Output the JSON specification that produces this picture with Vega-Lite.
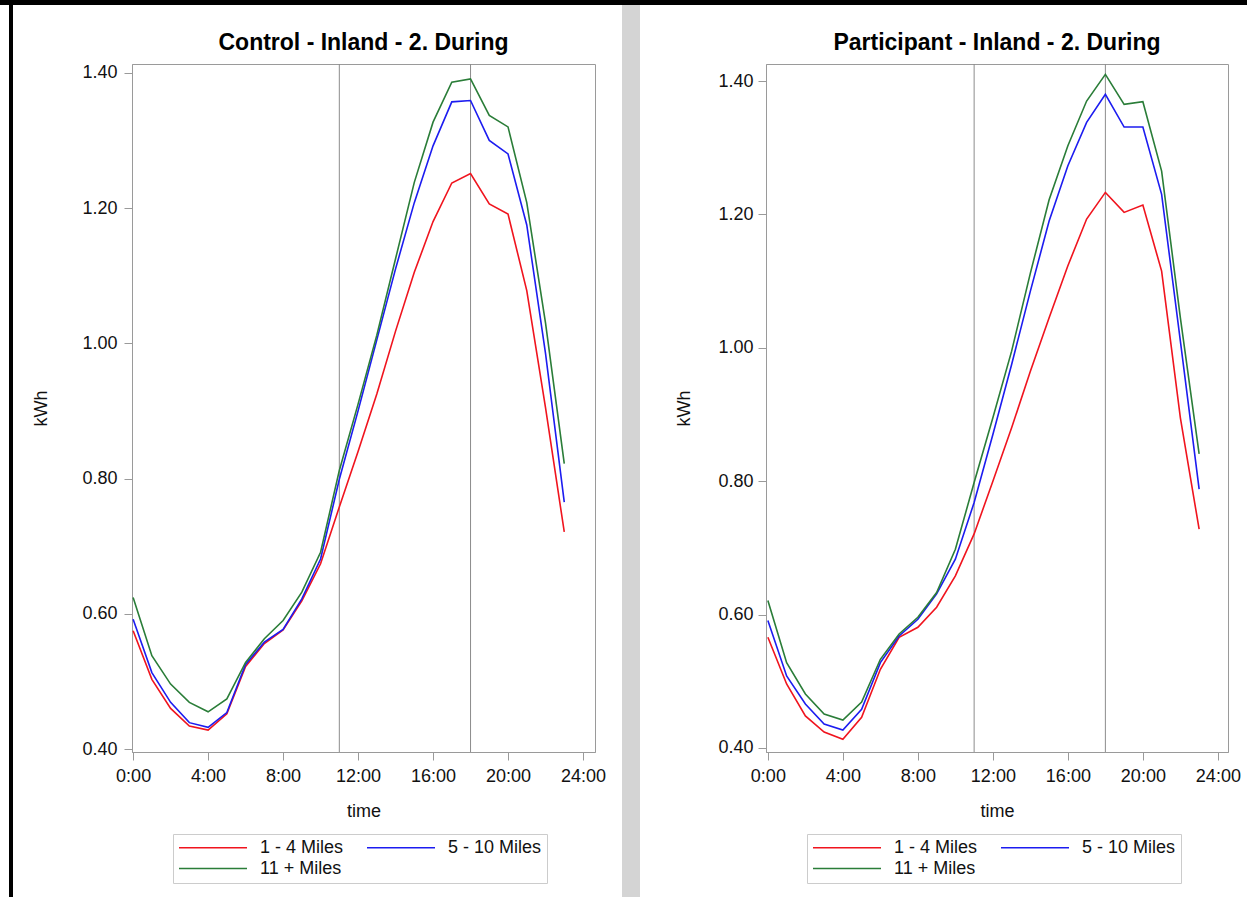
{
  "$schema": "https://vega.github.io/schema/vega-lite/v6.json",
  "padding": 0,
  "background": "white",
  "spacing": 0,
  "resolve": {"scale": {"color": "independent"}, "legend": {"color": "independent"}},
  "config": {
    "font": "Liberation Sans",
    "view": {"stroke": null},
    "axis": {"labelFont": "Liberation Sans", "labelFontSize": 18, "labelColor": "#111", "titleFont": "Liberation Sans", "titleFontSize": 18, "titleFontWeight": "normal", "titleColor": "#111", "domainColor": "#9a9a9a", "tickColor": "#9a9a9a", "tickSize": 8, "grid": false},
    "legend": {"orient": "none", "legendX": 41, "legendY": 770, "direction": "horizontal", "columns": 2, "padding": 5, "strokeColor": "#cccccc", "symbolType": "stroke", "symbolSize": 4624, "symbolStrokeWidth": 1.6, "clipHeight": 17, "labelFont": "Liberation Sans", "labelFontSize": 18, "labelColor": "#111", "labelOffset": 12, "columnPadding": 22, "rowPadding": 2, "title": null},
    "title": {"font": "Liberation Sans", "fontSize": 23, "fontWeight": "bold", "color": "#000", "anchor": "middle", "offset": 9}
  },
  "datasets": {
    "one": [{}],
    "refs": [{"hour": 11}, {"hour": 18}],
    "control": [
      {"hour":0,"distance":"1 - 4 Miles","kWh":0.575},{"hour":1,"distance":"1 - 4 Miles","kWh":0.503},{"hour":2,"distance":"1 - 4 Miles","kWh":0.460},{"hour":3,"distance":"1 - 4 Miles","kWh":0.434},{"hour":4,"distance":"1 - 4 Miles","kWh":0.428},{"hour":5,"distance":"1 - 4 Miles","kWh":0.452},{"hour":6,"distance":"1 - 4 Miles","kWh":0.522},{"hour":7,"distance":"1 - 4 Miles","kWh":0.556},{"hour":8,"distance":"1 - 4 Miles","kWh":0.576},{"hour":9,"distance":"1 - 4 Miles","kWh":0.619},{"hour":10,"distance":"1 - 4 Miles","kWh":0.674},{"hour":11,"distance":"1 - 4 Miles","kWh":0.758},{"hour":12,"distance":"1 - 4 Miles","kWh":0.840},{"hour":13,"distance":"1 - 4 Miles","kWh":0.925},{"hour":14,"distance":"1 - 4 Miles","kWh":1.018},{"hour":15,"distance":"1 - 4 Miles","kWh":1.105},{"hour":16,"distance":"1 - 4 Miles","kWh":1.180},{"hour":17,"distance":"1 - 4 Miles","kWh":1.237},{"hour":18,"distance":"1 - 4 Miles","kWh":1.251},{"hour":19,"distance":"1 - 4 Miles","kWh":1.206},{"hour":20,"distance":"1 - 4 Miles","kWh":1.191},{"hour":21,"distance":"1 - 4 Miles","kWh":1.078},{"hour":22,"distance":"1 - 4 Miles","kWh":0.905},{"hour":23,"distance":"1 - 4 Miles","kWh":0.721},
      {"hour":0,"distance":"5 - 10 Miles","kWh":0.592},{"hour":1,"distance":"5 - 10 Miles","kWh":0.513},{"hour":2,"distance":"5 - 10 Miles","kWh":0.469},{"hour":3,"distance":"5 - 10 Miles","kWh":0.439},{"hour":4,"distance":"5 - 10 Miles","kWh":0.432},{"hour":5,"distance":"5 - 10 Miles","kWh":0.454},{"hour":6,"distance":"5 - 10 Miles","kWh":0.525},{"hour":7,"distance":"5 - 10 Miles","kWh":0.558},{"hour":8,"distance":"5 - 10 Miles","kWh":0.577},{"hour":9,"distance":"5 - 10 Miles","kWh":0.622},{"hour":10,"distance":"5 - 10 Miles","kWh":0.681},{"hour":11,"distance":"5 - 10 Miles","kWh":0.799},{"hour":12,"distance":"5 - 10 Miles","kWh":0.900},{"hour":13,"distance":"5 - 10 Miles","kWh":1.005},{"hour":14,"distance":"5 - 10 Miles","kWh":1.110},{"hour":15,"distance":"5 - 10 Miles","kWh":1.208},{"hour":16,"distance":"5 - 10 Miles","kWh":1.292},{"hour":17,"distance":"5 - 10 Miles","kWh":1.357},{"hour":18,"distance":"5 - 10 Miles","kWh":1.359},{"hour":19,"distance":"5 - 10 Miles","kWh":1.300},{"hour":20,"distance":"5 - 10 Miles","kWh":1.280},{"hour":21,"distance":"5 - 10 Miles","kWh":1.175},{"hour":22,"distance":"5 - 10 Miles","kWh":0.985},{"hour":23,"distance":"5 - 10 Miles","kWh":0.765},
      {"hour":0,"distance":"11 + Miles","kWh":0.624},{"hour":1,"distance":"11 + Miles","kWh":0.538},{"hour":2,"distance":"11 + Miles","kWh":0.496},{"hour":3,"distance":"11 + Miles","kWh":0.469},{"hour":4,"distance":"11 + Miles","kWh":0.455},{"hour":5,"distance":"11 + Miles","kWh":0.474},{"hour":6,"distance":"11 + Miles","kWh":0.528},{"hour":7,"distance":"11 + Miles","kWh":0.563},{"hour":8,"distance":"11 + Miles","kWh":0.590},{"hour":9,"distance":"11 + Miles","kWh":0.632},{"hour":10,"distance":"11 + Miles","kWh":0.691},{"hour":11,"distance":"11 + Miles","kWh":0.812},{"hour":12,"distance":"11 + Miles","kWh":0.910},{"hour":13,"distance":"11 + Miles","kWh":1.012},{"hour":14,"distance":"11 + Miles","kWh":1.125},{"hour":15,"distance":"11 + Miles","kWh":1.238},{"hour":16,"distance":"11 + Miles","kWh":1.327},{"hour":17,"distance":"11 + Miles","kWh":1.386},{"hour":18,"distance":"11 + Miles","kWh":1.391},{"hour":19,"distance":"11 + Miles","kWh":1.337},{"hour":20,"distance":"11 + Miles","kWh":1.320},{"hour":21,"distance":"11 + Miles","kWh":1.208},{"hour":22,"distance":"11 + Miles","kWh":1.030},{"hour":23,"distance":"11 + Miles","kWh":0.822}
    ],
    "participant": [
      {"hour":0,"distance":"1 - 4 Miles","kWh":0.566},{"hour":1,"distance":"1 - 4 Miles","kWh":0.496},{"hour":2,"distance":"1 - 4 Miles","kWh":0.448},{"hour":3,"distance":"1 - 4 Miles","kWh":0.424},{"hour":4,"distance":"1 - 4 Miles","kWh":0.413},{"hour":5,"distance":"1 - 4 Miles","kWh":0.446},{"hour":6,"distance":"1 - 4 Miles","kWh":0.518},{"hour":7,"distance":"1 - 4 Miles","kWh":0.566},{"hour":8,"distance":"1 - 4 Miles","kWh":0.581},{"hour":9,"distance":"1 - 4 Miles","kWh":0.611},{"hour":10,"distance":"1 - 4 Miles","kWh":0.658},{"hour":11,"distance":"1 - 4 Miles","kWh":0.721},{"hour":12,"distance":"1 - 4 Miles","kWh":0.800},{"hour":13,"distance":"1 - 4 Miles","kWh":0.880},{"hour":14,"distance":"1 - 4 Miles","kWh":0.965},{"hour":15,"distance":"1 - 4 Miles","kWh":1.045},{"hour":16,"distance":"1 - 4 Miles","kWh":1.123},{"hour":17,"distance":"1 - 4 Miles","kWh":1.193},{"hour":18,"distance":"1 - 4 Miles","kWh":1.233},{"hour":19,"distance":"1 - 4 Miles","kWh":1.203},{"hour":20,"distance":"1 - 4 Miles","kWh":1.214},{"hour":21,"distance":"1 - 4 Miles","kWh":1.115},{"hour":22,"distance":"1 - 4 Miles","kWh":0.895},{"hour":23,"distance":"1 - 4 Miles","kWh":0.728},
      {"hour":0,"distance":"5 - 10 Miles","kWh":0.591},{"hour":1,"distance":"5 - 10 Miles","kWh":0.508},{"hour":2,"distance":"5 - 10 Miles","kWh":0.466},{"hour":3,"distance":"5 - 10 Miles","kWh":0.436},{"hour":4,"distance":"5 - 10 Miles","kWh":0.427},{"hour":5,"distance":"5 - 10 Miles","kWh":0.458},{"hour":6,"distance":"5 - 10 Miles","kWh":0.528},{"hour":7,"distance":"5 - 10 Miles","kWh":0.568},{"hour":8,"distance":"5 - 10 Miles","kWh":0.593},{"hour":9,"distance":"5 - 10 Miles","kWh":0.631},{"hour":10,"distance":"5 - 10 Miles","kWh":0.683},{"hour":11,"distance":"5 - 10 Miles","kWh":0.768},{"hour":12,"distance":"5 - 10 Miles","kWh":0.870},{"hour":13,"distance":"5 - 10 Miles","kWh":0.975},{"hour":14,"distance":"5 - 10 Miles","kWh":1.085},{"hour":15,"distance":"5 - 10 Miles","kWh":1.190},{"hour":16,"distance":"5 - 10 Miles","kWh":1.273},{"hour":17,"distance":"5 - 10 Miles","kWh":1.338},{"hour":18,"distance":"5 - 10 Miles","kWh":1.380},{"hour":19,"distance":"5 - 10 Miles","kWh":1.331},{"hour":20,"distance":"5 - 10 Miles","kWh":1.331},{"hour":21,"distance":"5 - 10 Miles","kWh":1.230},{"hour":22,"distance":"5 - 10 Miles","kWh":1.010},{"hour":23,"distance":"5 - 10 Miles","kWh":0.788},
      {"hour":0,"distance":"11 + Miles","kWh":0.621},{"hour":1,"distance":"11 + Miles","kWh":0.528},{"hour":2,"distance":"11 + Miles","kWh":0.481},{"hour":3,"distance":"11 + Miles","kWh":0.451},{"hour":4,"distance":"11 + Miles","kWh":0.442},{"hour":5,"distance":"11 + Miles","kWh":0.469},{"hour":6,"distance":"11 + Miles","kWh":0.533},{"hour":7,"distance":"11 + Miles","kWh":0.571},{"hour":8,"distance":"11 + Miles","kWh":0.596},{"hour":9,"distance":"11 + Miles","kWh":0.633},{"hour":10,"distance":"11 + Miles","kWh":0.698},{"hour":11,"distance":"11 + Miles","kWh":0.798},{"hour":12,"distance":"11 + Miles","kWh":0.895},{"hour":13,"distance":"11 + Miles","kWh":0.995},{"hour":14,"distance":"11 + Miles","kWh":1.112},{"hour":15,"distance":"11 + Miles","kWh":1.222},{"hour":16,"distance":"11 + Miles","kWh":1.303},{"hour":17,"distance":"11 + Miles","kWh":1.370},{"hour":18,"distance":"11 + Miles","kWh":1.410},{"hour":19,"distance":"11 + Miles","kWh":1.365},{"hour":20,"distance":"11 + Miles","kWh":1.369},{"hour":21,"distance":"11 + Miles","kWh":1.265},{"hour":22,"distance":"11 + Miles","kWh":1.045},{"hour":23,"distance":"11 + Miles","kWh":0.841}
    ]
  },
  "vconcat": [
    {"data": {"name": "one"}, "mark": {"type": "rect", "opacity": 0}, "encoding": {}, "width": 1247, "height": 5, "view": {"fill": "#000000", "stroke": null}},
    {
      "spacing": 0,
      "resolve": {"scale": {"color": "independent"}, "legend": {"color": "independent"}},
      "hconcat": [
        {"data": {"name": "one"}, "mark": {"type": "rect", "opacity": 0}, "encoding": {}, "width": 9, "height": 1, "view": {"stroke": null}},
        {"data": {"name": "one"}, "mark": {"type": "rect", "opacity": 0}, "encoding": {}, "width": 4, "height": 892, "view": {"fill": "#000000", "stroke": null}},
        {"data": {"name": "one"}, "mark": {"type": "rect", "opacity": 0}, "encoding": {}, "width": 19, "height": 1, "view": {"stroke": null}},
        {
          "spacing": 0,
          "resolve": {"scale": {"color": "independent"}, "legend": {"color": "independent"}},
          "vconcat": [
            {"data": {"name": "one"}, "mark": {"type": "rect", "opacity": 0}, "encoding": {}, "width": 463, "height": 26, "view": {"stroke": null}},
            {
              "width": 463, "height": 688,
              "view": {"stroke": "#9a9a9a", "strokeWidth": 1},
              "title": {"text": "Control - Inland - 2. During"},
              "layer": [
                {"data": {"name": "refs"}, "mark": {"type": "rule", "color": "#8c8c8c", "strokeWidth": 1}, "encoding": {"x": {"field": "hour", "type": "quantitative", "scale": {"domain": [-0.06, 24.64], "nice": false, "zero": false}, "axis": {"title": "time", "values": [0, 4, 8, 12, 16, 20, 24], "labelExpr": "datum.value + ':00'", "labelPadding": 7, "titlePadding": 17}}}},
                {"data": {"name": "control"}, "mark": {"type": "line", "strokeWidth": 1.6}, "encoding": {
                  "x": {"field": "hour", "type": "quantitative", "scale": {"domain": [-0.06, 24.64], "nice": false, "zero": false}, "axis": {"title": "time", "values": [0, 4, 8, 12, 16, 20, 24], "labelExpr": "datum.value + ':00'", "labelPadding": 7, "titlePadding": 17}},
                  "y": {"field": "kWh", "type": "quantitative", "scale": {"domain": [0.3956, 1.413], "nice": false, "zero": false}, "axis": {"title": "kWh", "values": [0.4, 0.6, 0.8, 1.0, 1.2, 1.4], "format": ".2f", "labelPadding": 7, "titlePadding": 31}},
                  "color": {"field": "distance", "type": "nominal", "scale": {"domain": ["1 - 4 Miles", "5 - 10 Miles", "11 + Miles"], "range": ["#f0141e", "#1c1cf0", "#2a7d38"]}}
                }}
              ]
            }
          ]
        },
        {"data": {"name": "one"}, "mark": {"type": "rect", "opacity": 0}, "encoding": {}, "width": 15, "height": 1, "view": {"stroke": null}},
        {"data": {"name": "one"}, "mark": {"type": "rect", "opacity": 0}, "encoding": {}, "width": 18, "height": 892, "view": {"fill": "#d4d4d4", "stroke": null}},
        {"data": {"name": "one"}, "mark": {"type": "rect", "opacity": 0}, "encoding": {}, "width": 35, "height": 1, "view": {"stroke": null}},
        {
          "spacing": 0,
          "resolve": {"scale": {"color": "independent"}, "legend": {"color": "independent"}},
          "vconcat": [
            {"data": {"name": "one"}, "mark": {"type": "rect", "opacity": 0}, "encoding": {}, "width": 462, "height": 26, "view": {"stroke": null}},
            {
              "width": 462, "height": 688,
              "view": {"stroke": "#9a9a9a", "strokeWidth": 1},
              "title": {"text": "Participant - Inland - 2. During"},
              "layer": [
                {"data": {"name": "refs"}, "mark": {"type": "rule", "color": "#8c8c8c", "strokeWidth": 1}, "encoding": {"x": {"field": "hour", "type": "quantitative", "scale": {"domain": [-0.1, 24.54], "nice": false, "zero": false}, "axis": {"title": "time", "values": [0, 4, 8, 12, 16, 20, 24], "labelExpr": "datum.value + ':00'", "labelPadding": 7, "titlePadding": 17}}}},
                {"data": {"name": "participant"}, "mark": {"type": "line", "strokeWidth": 1.6}, "encoding": {
                  "x": {"field": "hour", "type": "quantitative", "scale": {"domain": [-0.1, 24.54], "nice": false, "zero": false}, "axis": {"title": "time", "values": [0, 4, 8, 12, 16, 20, 24], "labelExpr": "datum.value + ':00'", "labelPadding": 7, "titlePadding": 17}},
                  "y": {"field": "kWh", "type": "quantitative", "scale": {"domain": [0.394, 1.4255], "nice": false, "zero": false}, "axis": {"title": "kWh", "values": [0.4, 0.6, 0.8, 1.0, 1.2, 1.4], "format": ".2f", "labelPadding": 5, "titlePadding": 24}},
                  "color": {"field": "distance", "type": "nominal", "scale": {"domain": ["1 - 4 Miles", "5 - 10 Miles", "11 + Miles"], "range": ["#f0141e", "#1c1cf0", "#2a7d38"]}}
                }}
              ]
            }
          ]
        }
      ]
    }
  ]
}
